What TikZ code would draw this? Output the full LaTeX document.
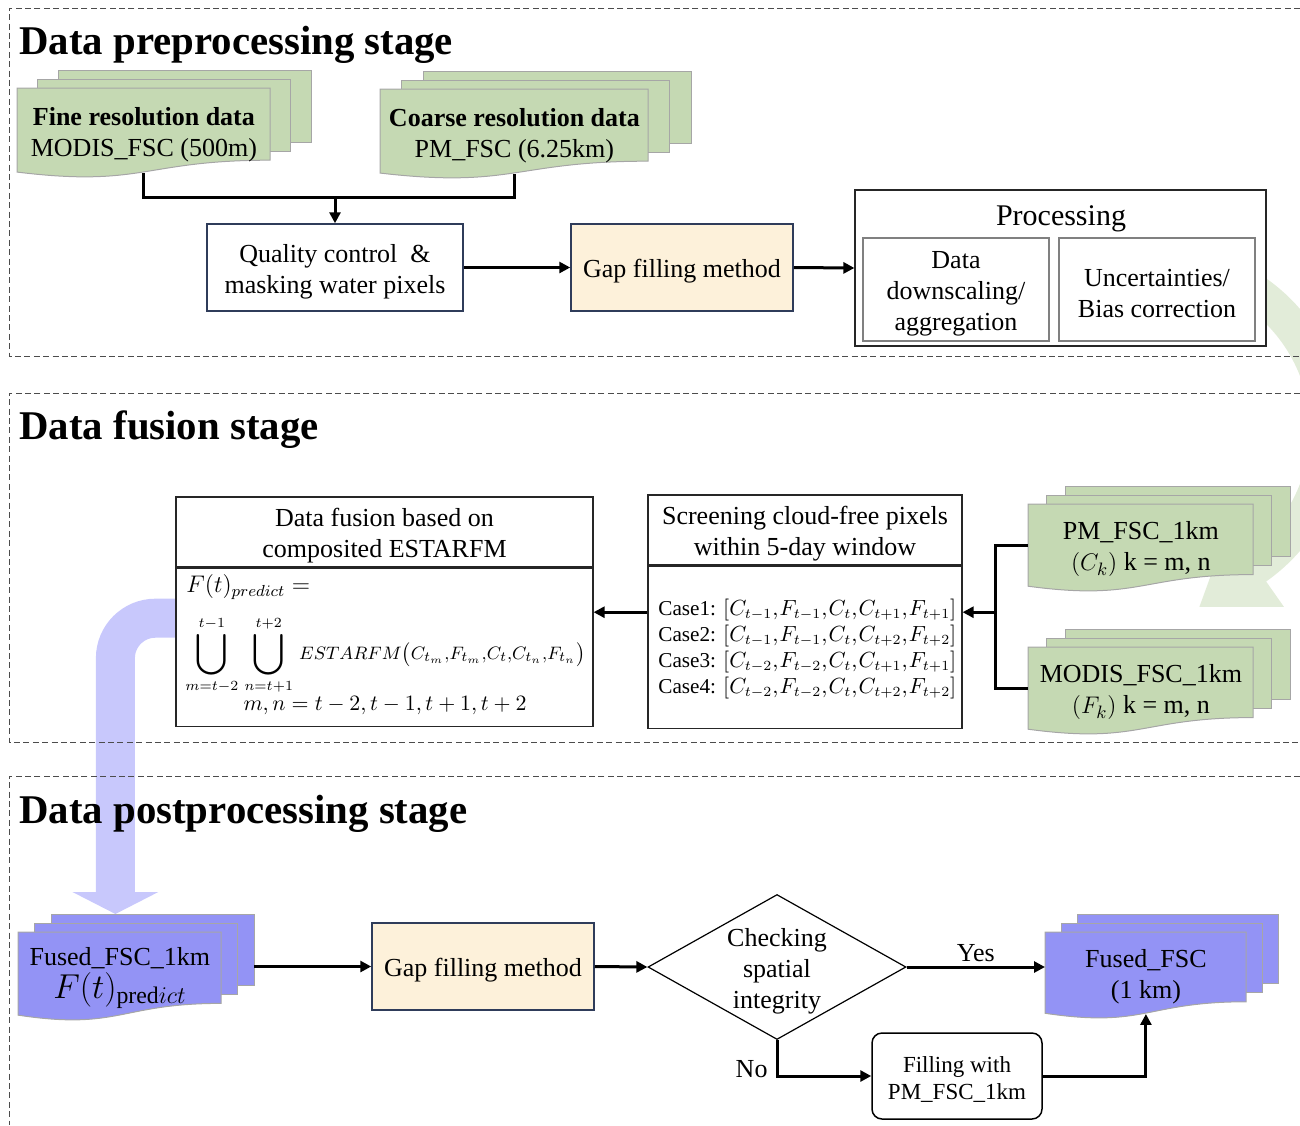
\documentclass[tikz,border=0pt]{standalone}
\usepackage{fontspec}
\usepackage{graphicx}
\setmainfont{Liberation Serif}
\usetikzlibrary{arrows.meta,shapes.geometric,backgrounds}

\definecolor{docgreen}{HTML}{C5D9B3}
\definecolor{docblue}{HTML}{9393F5}
\definecolor{flowblue}{HTML}{C8C8FC}
\definecolor{flowgreen}{HTML}{E2ECD9}
\definecolor{gapyellow}{HTML}{FDF1DA}
\definecolor{navyline}{HTML}{2F3C5A}
\definecolor{pagegray}{HTML}{A6A6A6}

\tikzset{
  base/.style={font=\fontsize{13}{15.5}\selectfont, align=center, inner sep=0pt},
  % box text sits slightly below the geometric centre of its box
  txt/.style 2 args={label={[base, yshift=-2pt, name=#1]center:{#2}}},
  plainbox/.style={base, draw=navyline, line width=0.75pt, fill=white},
  gapbox/.style={plainbox, fill=gapyellow},
  panel/.style={base, draw=black!85, line width=0.6pt, fill=white},
  subpanel/.style={base, draw=black!50, line width=0.6pt, fill=white},
  conn/.style={line width=1.5pt},
  flow/.style={conn, -{Triangle[length=5.5pt,width=5.5pt]}},
  frame/.style={draw=black!70, line width=0.5pt, dash pattern=on 3pt off 1.7pt},
  stagetitle/.style={font=\fontsize{20.4}{24}\selectfont\bfseries, anchor=base west, inner sep=0pt},
  pageline/.style={draw=pagegray, line width=0.5pt},
}

% large union sign with limits above and below
\newcommand\bigU{\mathop{\vcenter{\hbox{\scalebox{1.45}{$\displaystyle\bigcup$}}}}\limits}
\newcommand\cm{{,}\mkern1mu}

% stack of three pages with a wavy front page; #1 name, #2 left, #3 top,
% #4 width, #5 wave height, #6 page offset, #7 fill, #8 text
\newcommand\docstack[8]{%
  \foreach \k in {2,1}{%
    \filldraw[pageline, fill=#7] ({#2+\k*#6},{#3-9*\k}) rectangle ++(#4,{0.8*#5});
  }%
  \coordinate (#1-back) at ({#2+2*#6+#4},{#3-18+0.4*#5});
  \filldraw[pageline, fill=#7] (#2,#3) -- ({#2+#4},#3) -- ({#2+#4},{#3+0.802*#5})
    .. controls ({#2+0.5*#4},{#3+0.802*#5}) and ({#2+0.5*#4},{#3+1.107*#5}) .. (#2,{#3+0.934*#5}) -- cycle;
  \node[base, anchor=north west, minimum width={#4*0.5pt}, minimum height={0.933*#5*0.5pt},
        txt={#1-text}{#8}] (#1) at (#2,#3) {};
}

\begin{document}
\begin{tikzpicture}[x=0.5pt,y=-0.5pt]
\useasboundingbox (0,0) rectangle (1300,1125);

% stage titles
\node[stagetitle] (title1) at (19,54) {Data preprocessing stage};
\node[stagetitle] (title2) at (19,439) {Data fusion stage};
\node[stagetitle] (title3) at (19,823) {Data postprocessing stage};

% ---------- preprocessing ----------
\docstack{fine}{17}{88}{253}{90}{20.5}{docgreen}{\textbf{Fine resolution data}\\MODIS\_FSC (500m)}
\docstack{coarse}{380}{89}{268}{90}{21.5}{docgreen}{\textbf{Coarse resolution data}\\PM\_FSC (6.25km)}

\node[plainbox, minimum width=128pt, minimum height=43.5pt,
      txt={qual-text}{Quality control\ \ \&\\masking water pixels}] (qual) at (335,267.5) {};
\node[gapbox, minimum width=111pt, minimum height=43.5pt, txt={gap1-text}{Gap filling method}] (gap1) at (682,267.5) {};
\node[panel, minimum width=205.5pt, minimum height=78pt] (proc) at (1060.5,268) {};
\node[base, font=\fontsize{15}{18}\selectfont] (proctitle) at (1061,219) {Processing};
\node[subpanel, minimum width=93pt, minimum height=51.5pt,
      txt={down-text}{Data\\downscaling/\\aggregation}] (down) at (956,289.5) {};
\node[subpanel, minimum width=98pt, minimum height=51.5pt,
      txt={bias-text}{Uncertainties/\\Bias correction}] (bias) at (1157,289.5) {};

\path (fine.south) ++(0,25) coordinate (joinL);
\draw[conn] (fine.south) -- (joinL) -| (coarse.south);
\draw[flow] (joinL -| qual.north) -- (qual.north);
\draw[flow] (qual.east) -- (gap1.west);
\draw[flow] (gap1.east) -- (proc.west);

% ---------- fusion ----------
\node[panel, minimum width=208.5pt, minimum height=35pt,
      txt={fushead-text}{Data fusion based on\\composited ESTARFM}] (fushead) at (384.5,532) {};
\node[panel, minimum width=208.5pt, minimum height=79pt, anchor=north] (fusbody) at (fushead.south) {};
\node[anchor=west, inner sep=0pt, font=\fontsize{12}{14}\selectfont] (fpred) at (186,587) {$F(t)_{predict} =$};
\node[anchor=west, inner sep=0pt, font=\fontsize{9.3}{11}\selectfont] (fsum) at (185,655)
  {$\displaystyle\bigU_{m=t-2}^{t-1}\,\bigU_{n=t+1}^{t+2}\, ESTARFM\bigl(C_{t_m}{,}F_{t_m}{,}C_t{,}C_{t_n}{,}F_{t_n}\bigr)$};
\node[inner sep=0pt, font=\fontsize{11}{13}\selectfont] (fmn) at (385,706) {$m,n=t-2,t-1,t+1,t+2$};

\node[panel, minimum width=157pt, minimum height=35pt,
      txt={scrhead-text}{Screening cloud-free pixels\\within 5-day window}] (scrhead) at (805,530) {};
\node[panel, minimum width=157pt, minimum height=81pt, anchor=north] (scrbody) at (scrhead.south) {};
\node[anchor=west, align=left, inner sep=0pt, font=\fontsize{10.6}{13}\selectfont] (cases) at (658,649)
  {Case1: $[C_{t-1}\cm F_{t-1}\cm C_t\cm C_{t+1}\cm F_{t+1}]$\\
   Case2: $[C_{t-1}\cm F_{t-1}\cm C_t\cm C_{t+2}\cm F_{t+2}]$\\
   Case3: $[C_{t-2}\cm F_{t-2}\cm C_t\cm C_{t+1}\cm F_{t+1}]$\\
   Case4: $[C_{t-2}\cm F_{t-2}\cm C_t\cm C_{t+2}\cm F_{t+2}]$};

\docstack{pm}{1028}{504}{225}{88}{18.5}{docgreen}{PM\_FSC\_1km\\$(C_k)$ k = m, n}
\docstack{modis}{1028}{647}{225}{88}{18.5}{docgreen}{MODIS\_FSC\_1km\\$(F_k)$ k = m, n}

\coordinate (caseR) at ([yshift=17.5pt]scrbody.east);
\coordinate (caseL) at ([yshift=17.5pt]scrbody.west);
\path (pm.west) ++(-33,0) coordinate (brk);
\draw[conn] (pm.west) -- (brk) |- (modis.west);
\draw[flow] (brk |- caseR) -- (caseR);
\draw[flow] (caseL) -- (caseL -| fusbody.east);

% ---------- postprocessing ----------
\docstack{fusedA}{18}{932}{203}{89}{16.5}{docblue}{Fused\_FSC\_1km\\[1pt]{\fontsize{17}{18}\selectfont$F(t)_{\mathrm{pred}ict}$}}
\node[gapbox, minimum width=111pt, minimum height=43.5pt, txt={gap2-text}{Gap filling method}] (gap2) at (483,966.5) {};
\node[draw=black, line width=0.6pt, shape=diamond, minimum width=129pt, minimum height=72.5pt, inner sep=0pt] (check) at (777,967) {};
\node[base] (checktext) at ([yshift=-2pt]check.center) {Checking\\spatial\\integrity};
\docstack{fused}{1045}{932}{201}{87}{16}{docblue}{Fused\_FSC\\(1 km)}
\node[plainbox, draw=black, rounded corners=5pt, minimum width=85pt, minimum height=43pt] (fillpm) at (957,1076) {};
\node[base, font=\fontsize{11.5}{13.5}\selectfont] (fillpm-text) at ([yshift=-1.5pt]fillpm.center) {Filling with\\PM\_FSC\_1km};

\draw[flow] (fusedA-back |- gap2.west) -- (gap2.west);
\draw[flow] (gap2.east) -- (check.west);
\draw[flow] (check.east) -- node[base, above=2pt] (yes) {Yes} (check.east -| fused.west);
\draw[flow] (check.south) |- node[pos=0.5, base, anchor=east, xshift=-4pt, yshift=3.5pt] (no) {No} (fillpm.west);
\draw[flow] (fillpm.east) -| (fused.south);

% ---------- background: flow bands and stage frames ----------
\begin{scope}[on background layer]
  \draw[flowgreen, line width=17.5pt, -{Triangle[length=35pt,width=46pt]}]
    (1189.1,265.0) arc[start angle=-80, end angle=55, radius=167.5] -- ++(-57.3,40.2);
  \coordinate (bandStart) at ([xshift=20pt,yshift=14.5pt]fusbody.west);
  \draw[flowblue, line width=19.5pt, rounded corners=20pt, -{Triangle[length=11pt,width=42.5pt]}]
    (bandStart) -| ([xshift=-2.25pt,yshift=9pt]fusedA.north);
  \draw[frame] (1300,8) -- (9,8) -- (9,356) -- (1300,356);
  \draw[frame] (1300,393) -- (9,393) -- (9,742) -- (1300,742);
  \draw[frame] (1300,776) -- (9,776) -- (9,1125);
\end{scope}
\end{tikzpicture}
\end{document}
